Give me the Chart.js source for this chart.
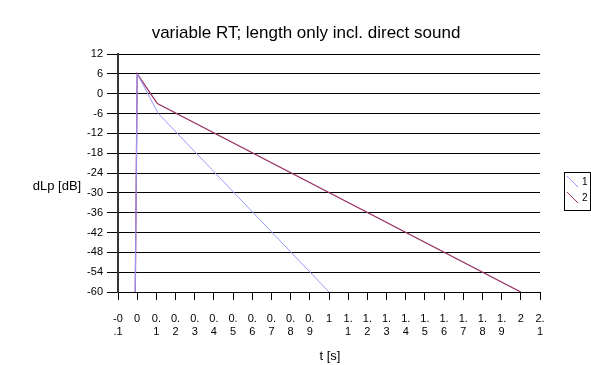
<!DOCTYPE html>
<html><head><meta charset="utf-8">
<script src="https://cdn.jsdelivr.net/npm/chart.js@4/dist/chart.umd.min.js"></script>
<style>html,body{margin:0;padding:0;background:#fff}#wrap{width:591px;height:365px}</style>
</head><body><div id="wrap"><canvas id="c" width="591" height="365"></canvas></div>
<script>
const chartTitle = "variable RT; length only incl. direct sound";
const xTitle = "t [s]";
const yTitle = "dLp [dB]";
const seriesNames = ["1", "2"];
const series1T = [-0.01, 0, 0.11, 1.0];
const series1Lp = [-60, 6, -6, -60];
const series2T = [-0.01, 0, 0.105, 2.0];
const series2Lp = [-60, 6, -3, -60];
const xTickLabels = {"-0.1":["-0",".1"],"0":["0"],"0.1":["0.","1"],"0.2":["0.","2"],"0.3":["0.","3"],"0.4":["0.","4"],"0.5":["0.","5"],"0.6":["0.","6"],"0.7":["0.","7"],"0.8":["0.","8"],"0.9":["0.","9"],"1":["1"],"1.1":["1.","1"],"1.2":["1.","2"],"1.3":["1.","3"],"1.4":["1.","4"],"1.5":["1.","5"],"1.6":["1.","6"],"1.7":["1.","7"],"1.8":["1.","8"],"1.9":["1.","9"],"2":["2"],"2.1":["2.","1"]};
const colors = ["#9999ff", "#993366"];

const pts = (t, v) => t.map((x, i) => ({x: x, y: v[i]}));
const FONT = "Arial, 'Liberation Sans', sans-serif";

const decor = {
  id: 'decor',
  afterDraw(chart) {
    const ctx = chart.ctx;
    ctx.save();
    ctx.fillStyle = '#000';
    ctx.textAlign = 'center';
    ctx.textBaseline = 'middle';
    ctx.font = '17px ' + FONT;
    ctx.fillText(chartTitle, 306, 33);
    ctx.font = '13px ' + FONT;
    ctx.fillText(xTitle, 330, 356);
    ctx.fillText(yTitle, 57, 186);
    // legend
    const lx = 564, ly = 172;
    ctx.strokeStyle = '#000';
    ctx.lineWidth = 1;
    ctx.strokeRect(lx + 0.5, ly + 0.5, 26, 38);
    ctx.font = '10px ' + FONT;
    ctx.textAlign = 'left';
    seriesNames.forEach((n, i) => {
      const y0 = ly + 4 + i * 16;
      ctx.strokeStyle = colors[i];
      ctx.beginPath();
      ctx.moveTo(lx + 3, y0);
      ctx.lineTo(lx + 14, y0 + 11);
      ctx.stroke();
      ctx.fillStyle = '#000';
      ctx.fillText(n, lx + 18, y0 + 6);
    });
    ctx.restore();
  }
};

new Chart(document.getElementById('c'), {
  type: 'scatter',
  data: {
    datasets: [
      {label: seriesNames[0], data: pts(series1T, series1Lp), showLine: true, borderColor: colors[0], borderWidth: 1, pointRadius: 0, tension: 0},
      {label: seriesNames[1], data: pts(series2T, series2Lp), showLine: true, borderColor: colors[1], borderWidth: 1.3, pointRadius: 0, tension: 0}
    ]
  },
  options: {
    responsive: false,
    animation: false,
    devicePixelRatio: 1,
    layout: {padding: {left: 0, top: 54, right: 51, bottom: 0}},
    plugins: {legend: {display: false}, tooltip: {enabled: false}, title: {display: false}},
    scales: {
      x: {
        type: 'linear', min: -0.1, max: 2.1,
        afterFit(s) { s.height = 73; },
        afterBuildTicks(s) { s.ticks = Object.keys(xTickLabels).map(k => ({value: parseFloat(k)})); },
        ticks: {
          autoSkip: false, maxRotation: 0, minRotation: 0, padding: 12,
          color: '#000', font: {family: FONT, size: 11}, lineHeight: 1.2,
          callback(v) { const k = String(Math.round(v * 10) / 10); return xTickLabels[k] || ''; }
        },
        grid: {drawOnChartArea: false, drawTicks: true, tickLength: 8, color: '#000', lineWidth: 1},
        border: {color: '#000', width: 1}
      },
      y: {
        type: 'linear', min: -60, max: 12,
        afterFit(s) { s.width = 118; },
        ticks: {stepSize: 6, color: '#000', font: {family: FONT, size: 11}, padding: 4},
        grid: {color: '#000', lineWidth: 1, tickLength: 11},
        border: {color: '#333', width: 2}
      }
    }
  },
  plugins: [decor]
});
</script></body></html>
